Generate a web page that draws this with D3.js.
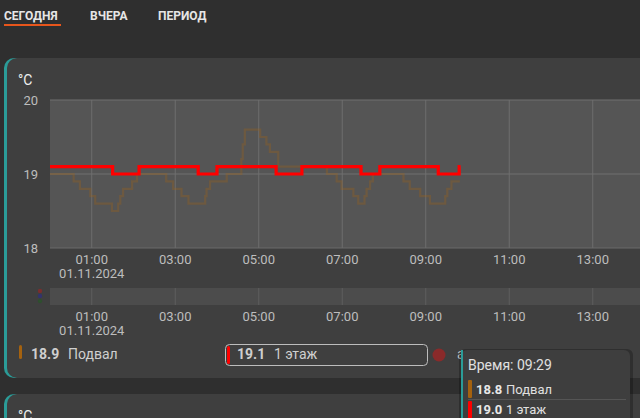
<!DOCTYPE html>
<html><head><meta charset="utf-8">
<script src="https://cdn.jsdelivr.net/npm/d3@7"></script>
<style>
html,body{margin:0;padding:0;background:#2f2f2f;overflow:hidden;}
svg{display:block;font-family:Roboto,"Noto Sans",sans-serif;}
</style></head><body>
<svg id="c" width="640" height="418"></svg>
<script>
const tabs = ["СЕГОДНЯ","ВЧЕРА","ПЕРИОД"];
const yTicks = [18,19,20];
const xTickLabels = ["01:00","03:00","05:00","07:00","09:00","11:00","13:00"];
const dateLabel = "01.11.2024";
const seriesNames = ["Подвал","1 этаж"];
const seriesColors = ["#a5620f","#ff0000"];
const currentValues = ["18.9","19.1"];
const tooltipTime = "09:29";
const tooltipValues = ["18.8","19.0"];
// Подвал (step-after): time, value
const podvalTimes = ["00:00","00:34","00:43","00:58","01:05","01:29","01:38","01:41","01:45","01:58","02:05","02:47","02:57","03:09","03:19","03:43","03:45","03:50","04:14","04:35","04:37","04:40","05:02","05:11","05:16","05:28","06:38","06:52","06:59","07:16","07:23","07:32","07:35","07:40","07:44","08:28","08:37","08:52","09:06","09:28","09:31","09:37","09:49"];
const podvalValues = [19.0,18.9,18.8,18.7,18.6,18.5,18.6,18.7,18.8,18.9,19.0,18.9,18.8,18.7,18.6,18.7,18.8,18.9,19.0,19.2,19.4,19.6,19.5,19.4,19.3,19.1,19.0,18.9,18.8,18.7,18.6,18.7,18.8,18.9,19.0,18.9,18.8,18.7,18.6,18.7,18.8,18.9,18.9];
// 1 этаж (step-after)
const etajTimes = ["00:00","01:30","02:08","03:33","04:00","05:25","06:02","07:27","07:54","09:18","09:48","09:50"];
const etajValues = [19.1,19.0,19.1,19.0,19.1,19.0,19.1,19.0,19.1,19.0,19.1,19.1];

const parseT = s => { const [h,m]=s.split(":").map(Number); return new Date(2024,10,1,h,m); };
const svg = d3.select("#c");
const teal = "#2b9c98";

// tabs
const tabX = [4,90,158];
tabs.forEach((t,i)=>{
  svg.append("text").attr("x",tabX[i]).attr("y",20).attr("fill","#e6e6e6")
    .attr("font-size",12).attr("font-weight","bold").text(t);
});
svg.append("rect").attr("x",4).attr("y",24).attr("width",57).attr("height",2).attr("fill","#e8561c");

// cards
function card(y,h){
  svg.append("rect").attr("x",4).attr("y",y).attr("width",660).attr("height",h).attr("rx",10).attr("fill",teal);
  svg.append("rect").attr("x",7).attr("y",y).attr("width",660).attr("height",h).attr("rx",10).attr("fill","#3f3f3f");
}
card(58,320);
card(394,60);
svg.append("text").attr("x",18).attr("y",85).attr("fill","#f0f0f0").attr("font-size",14).text("°C");
svg.append("text").attr("x",18).attr("y",421).attr("fill","#f0f0f0").attr("font-size",14).text("°C");

// scales
const x = d3.scaleTime().domain([new Date(2024,10,1,0,0), new Date(2024,10,2,0,0)]).range([50,1052]);
const y = d3.scaleLinear().domain([18,20]).range([248,100]);
const tickDates = xTickLabels.map(parseT);

// plot bg
svg.append("rect").attr("x",50).attr("y",100).attr("width",600).attr("height",148).attr("fill","#555555");
// vertical grid
svg.append("g").selectAll("line").data(tickDates).join("line")
  .attr("x1",d=>x(d)).attr("x2",d=>x(d)).attr("y1",100).attr("y2",248)
  .attr("stroke","#6e6e6e").attr("stroke-width",1);
// horizontal grid
svg.append("g").selectAll("line").data(yTicks).join("line")
  .attr("x1",50).attr("x2",640).attr("y1",d=>y(d)).attr("y2",d=>y(d))
  .attr("stroke",d=>d===18?"#6a6a6a":"#707070").attr("stroke-width",1);
// y labels
svg.append("g").selectAll("text").data(yTicks).join("text")
  .attr("x",38).attr("y",d=>y(d)+5).attr("text-anchor","end")
  .attr("fill","#bdbdbd").attr("font-size",13).text(d=>d);

// x labels
function xLabels(by){
  const g = svg.append("g");
  g.selectAll("text").data(tickDates).join("text")
    .attr("x",d=>x(d)).attr("y",by).attr("text-anchor","middle")
    .attr("fill","#bdbdbd").attr("font-size",13).text(d=>d3.timeFormat("%H:%M")(d));
  g.append("text").attr("x",x(tickDates[0])).attr("y",by+14).attr("text-anchor","middle")
    .attr("fill","#bdbdbd").attr("font-size",13).text(dateLabel);
}
xLabels(264);

// lines
const podval = podvalTimes.map((t,i)=>({t:parseT(t),v:podvalValues[i]}));
const etaj = etajTimes.map((t,i)=>({t:parseT(t),v:etajValues[i]}));
const line = d3.line().x(d=>x(d.t)).y(d=>y(d.v)).curve(d3.curveStepAfter);
svg.append("path").datum(podval).attr("d",line).attr("fill","none")
  .attr("stroke",seriesColors[0]).attr("stroke-opacity",0.3).attr("stroke-width",2.2);
svg.append("path").datum(etaj).attr("d",line).attr("fill","none")
  .attr("stroke",seriesColors[1]).attr("stroke-width",3.2);

// navigator
svg.append("rect").attr("x",50).attr("y",288).attr("width",600).attr("height",17).attr("fill","#4c4c4c");
svg.append("g").selectAll("line").data(tickDates).join("line")
  .attr("x1",d=>x(d)).attr("x2",d=>x(d)).attr("y1",288).attr("y2",305)
  .attr("stroke","#5e5e5e");
[["#7a2e2e",291],["#33336e",296],["#2f4f2f",301]].forEach(([c,cy])=>{
  svg.append("circle").attr("cx",40).attr("cy",cy).attr("r",2.2).attr("fill",c);
});
xLabels(321);

// legend
svg.append("rect").attr("x",19).attr("y",345).attr("width",3).attr("height",14).attr("rx",1.5).attr("fill",seriesColors[0]);
svg.append("text").attr("x",31).attr("y",359).attr("fill","#cfcfcf").attr("font-size",14).attr("font-weight","bold").text(currentValues[0]);
svg.append("text").attr("x",68).attr("y",359).attr("fill","#cfcfcf").attr("font-size",14).text(seriesNames[0]);
svg.append("rect").attr("x",225.5).attr("y",344.5).attr("width",202).attr("height",21).attr("rx",4)
  .attr("fill","none").attr("stroke","#bdbdbd").attr("stroke-width",1);
svg.append("rect").attr("x",227).attr("y",346).attr("width",3).attr("height",18).attr("rx",1.5).attr("fill",seriesColors[1]);
svg.append("text").attr("x",237).attr("y",359).attr("fill","#cfcfcf").attr("font-size",14).attr("font-weight","bold").text(currentValues[1]);
svg.append("text").attr("x",274).attr("y",359).attr("fill","#cfcfcf").attr("font-size",14).text(seriesNames[1]);
svg.append("circle").attr("cx",439).attr("cy",355).attr("r",6.5).attr("fill","#8a2a2a");
svg.append("text").attr("x",457).attr("y",359).attr("fill","#bdbdbd").attr("font-size",14).text("a");

// tooltip
const tt = svg.append("g");
tt.append("rect").attr("x",459).attr("y",349).attr("width",174).attr("height",90).attr("rx",6).attr("fill","#000").attr("opacity",0.25);
tt.append("rect").attr("x",461).attr("y",350).attr("width",169).attr("height",90).attr("rx",6).attr("fill","#3e3e3e");
tt.append("rect").attr("x",461).attr("y",350).attr("width",2).attr("height",90).attr("fill",teal);
tt.append("text").attr("x",468).attr("y",370).attr("fill","#e0e0e0").attr("font-size",14).text("Время: "+tooltipTime);
tt.append("rect").attr("x",468).attr("y",380).attr("width",4).attr("height",18).attr("rx",1).attr("fill",seriesColors[0]);
tt.append("text").attr("x",476).attr("y",394).attr("fill","#e8e8e8").attr("font-size",13).attr("font-weight","bold").text(tooltipValues[0]);
tt.append("text").attr("x",506).attr("y",394).attr("fill","#e0e0e0").attr("font-size",13).text(seriesNames[0]);
tt.append("line").attr("x1",468).attr("x2",626).attr("y1",399.5).attr("y2",399.5).attr("stroke","#555");
tt.append("rect").attr("x",468).attr("y",401).attr("width",4).attr("height",20).attr("rx",1).attr("fill",seriesColors[1]);
tt.append("text").attr("x",476).attr("y",414).attr("fill","#e8e8e8").attr("font-size",13).attr("font-weight","bold").text(tooltipValues[1]);
tt.append("text").attr("x",506).attr("y",414).attr("fill","#e0e0e0").attr("font-size",13).text(seriesNames[1]);
</script>
</body></html>
